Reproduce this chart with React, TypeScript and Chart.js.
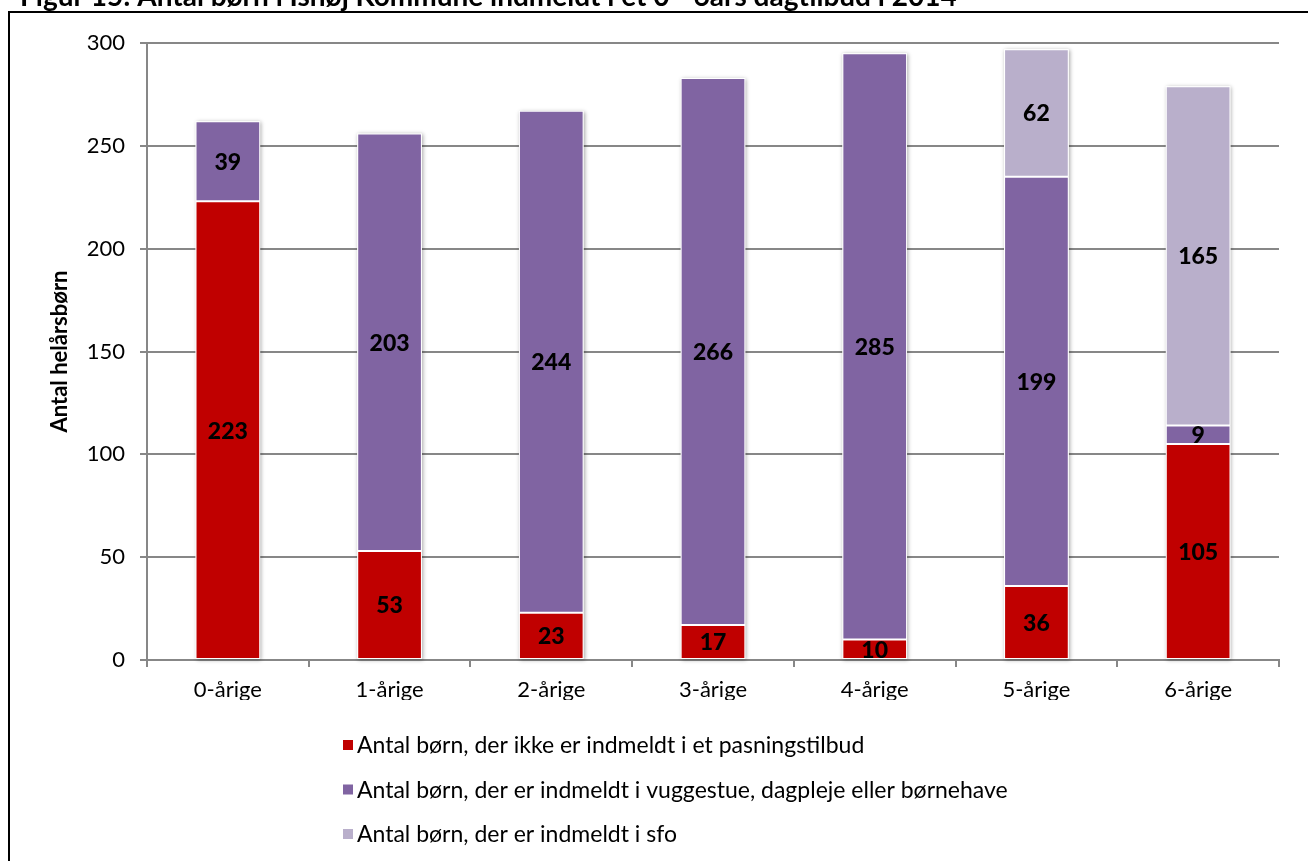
import React, { useEffect, useRef } from "react";
import { Chart, registerables } from "chart.js";

Chart.register(...registerables);

const title = "Figur 15: Antal børn i Ishøj Kommune indmeldt i et 0 - 6års dagtilbud i 2014";
const categories = ["0-årige", "1-årige", "2-årige", "3-årige", "4-årige", "5-årige", "6-årige"];
const seriesNames = [
  "Antal børn, der ikke er indmeldt i et pasningstilbud",
  "Antal børn, der er indmeldt i vuggestue, dagpleje eller børnehave",
  "Antal børn, der er indmeldt i sfo",
];
const notEnrolled = [223, 53, 23, 17, 10, 36, 105];
const daycare = [39, 203, 244, 266, 285, 199, 9];
const sfo = [null, null, null, null, null, 62, 165];
const seriesColors = ["#C00000", "#8064A2", "#B9AFCB"];
const yTicks = [0, 50, 100, 150, 200, 250, 300];
const yAxisTitle = "Antal helårsbørn";

const FONT = "Lato, 'Open Sans', sans-serif";

const framePlugin = {
  id: "frameTitle",
  beforeDraw(chart: any) {
    const ctx = chart.ctx;
    ctx.save();
    ctx.fillStyle = "#000";
    ctx.fillRect(8, 11, 2, chart.height);
    ctx.fillRect(8, 11, chart.width, 2);
    ctx.font = `bold 28px ${FONT}`;
    ctx.textAlign = "left";
    ctx.textBaseline = "alphabetic";
    ctx.fillText(title, 20, 6);
    ctx.restore();
  },
};

const shadowPlugin = {
  id: "barShadow",
  beforeDatasetsDraw(chart: any) {
    const ctx = chart.ctx;
    const metas = chart.data.datasets.map((_: any, i: number) => chart.getDatasetMeta(i));
    ctx.save();
    ctx.shadowColor = "rgba(0,0,0,0.35)";
    ctx.shadowBlur = 4;
    ctx.shadowOffsetX = 1;
    ctx.shadowOffsetY = 1;
    ctx.fillStyle = "#fff";
    categories.forEach((_, i) => {
      let top = Infinity;
      let base = -Infinity;
      let x = 0;
      let w = 0;
      metas.forEach((m: any, d: number) => {
        const v = chart.data.datasets[d].data[i];
        if (v === null || v === undefined) return;
        const el = m.data[i];
        top = Math.min(top, el.y, el.base);
        base = Math.max(base, el.y, el.base);
        x = el.x;
        w = el.width;
      });
      if (isFinite(top)) ctx.fillRect(x - w / 2, top, w, base - top);
    });
    ctx.restore();
  },
};

const labelPlugin = {
  id: "segLabels",
  afterDatasetsDraw(chart: any) {
    const ctx = chart.ctx;
    ctx.save();
    ctx.font = `900 23px ${FONT}`;
    ctx.fillStyle = "#000";
    ctx.textAlign = "center";
    ctx.textBaseline = "middle";
    chart.data.datasets.forEach((ds: any, d: number) => {
      const meta = chart.getDatasetMeta(d);
      ds.data.forEach((v: any, i: number) => {
        if (v === null || v === undefined) return;
        const el = meta.data[i];
        ctx.fillText(String(v), el.x, (el.y + el.base) / 2 + 1);
      });
    });
    ctx.restore();
  },
};

const legendPlugin = {
  id: "vertLegend",
  afterDraw(chart: any) {
    const ctx = chart.ctx;
    const x0 = 343;
    const y0 = chart.chartArea.bottom + 85;
    const gap = 44.5;
    ctx.save();
    ctx.font = `23px ${FONT}`;
    ctx.textAlign = "left";
    ctx.textBaseline = "middle";
    chart.data.datasets.forEach((ds: any, d: number) => {
      const y = y0 + d * gap;
      ctx.fillStyle = ds.backgroundColor;
      ctx.fillRect(x0, y - 5, 10, 10);
      ctx.fillStyle = "#000";
      ctx.fillText(ds.label, x0 + 14, y + 1);
    });
    ctx.restore();
  },
};

export default function App() {
  const ref = useRef<HTMLCanvasElement>(null);
  useEffect(() => {
    if (!ref.current) return;
    const data = [notEnrolled, daycare, sfo];
    const chart = new Chart(ref.current, {
      type: "bar",
      data: {
        labels: categories,
        datasets: data.map((d, i) => ({
          label: seriesNames[i],
          data: d as any,
          backgroundColor: seriesColors[i],
          borderColor: "#ffffff",
          borderWidth: 1,
          borderSkipped: false,
          categoryPercentage: 1,
          barPercentage: 0.4,
        })),
      },
      options: {
        responsive: false,
        animation: false,
        layout: { padding: { left: 43, top: 43, right: 29, bottom: 161 } },
        plugins: {
          legend: { display: false },
          tooltip: { enabled: false },
        },
        scales: {
          x: {
            stacked: true,
            afterFit: (s: any) => {
              s.height = 40;
            },
            grid: {
              display: true,
              drawOnChartArea: false,
              drawTicks: true,
              tickLength: 7,
              color: "#878787",
              lineWidth: 2,
            },
            border: { display: true, color: "#878787", width: 2 },
            ticks: {
              padding: 10,
              color: "#000",
              font: { family: FONT, size: 22 },
            },
          },
          y: {
            stacked: true,
            min: 0,
            max: 300,
            afterFit: (s: any) => {
              s.width = 104;
            },
            afterBuildTicks: (s: any) => {
              s.ticks = yTicks.map((v) => ({ value: v }));
            },
            grid: {
              color: "#878787",
              lineWidth: 2,
              drawTicks: true,
              tickLength: 7,
            },
            border: { display: true, color: "#878787", width: 2 },
            ticks: {
              padding: 15,
              color: "#000",
              font: { family: FONT, size: 22 },
            },
            title: {
              display: true,
              text: yAxisTitle,
              color: "#000",
              font: { family: FONT, size: 22, weight: "bold" },
            },
          },
        },
      },
      plugins: [framePlugin, shadowPlugin, labelPlugin, legendPlugin],
    });
    return () => chart.destroy();
  }, []);
  return (
    <div style={{ position: "fixed", left: 0, top: 0, width: 1308, height: 861, background: "#fff", overflow: "hidden" }}>
      <canvas ref={ref} width={1308} height={861} style={{ display: "block" }} />
    </div>
  );
}
